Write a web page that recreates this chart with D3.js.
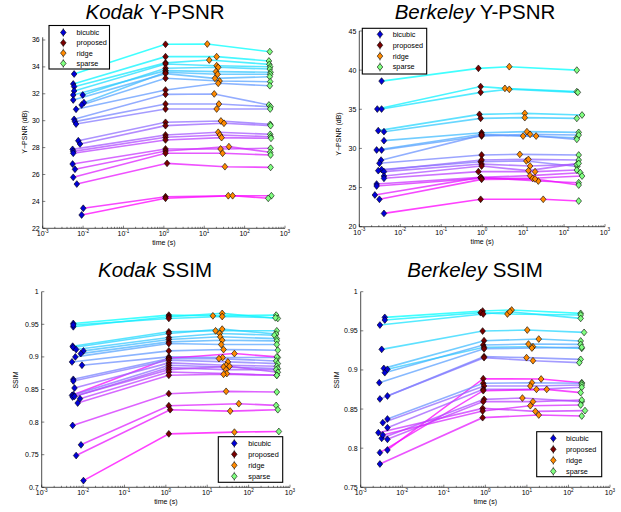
<!DOCTYPE html>
<html>
<head>
<meta charset="utf-8">
<script src="https://cdn.jsdelivr.net/npm/d3@7"></script>
<style>
  body { margin: 0; background: #fff; }
  svg { display: block; font-family: "Liberation Sans", Arial, sans-serif; }
  .tick-label { font-size: 7px; fill: #000; }
  .axis-label { font-size: 7px; fill: #000; }
  .title { font-size: 20.5px; fill: #000; }
  .legend text { font-size: 7.3px; fill: #000; }
</style>
</head>
<body>
<svg width="621" height="512"></svg>
<script>
// ---- data: [time (s), value] per image, one array per method ----
const methods = ['bicubic', 'proposed', 'ridge', 'sparse'];
const methodColors = ['#0000d8', '#780000', '#ff8a00', '#80ff80'];

// Kodak Y-PSNR
const kodakPsnrBicubic = [[0.0060,33.47],[0.0057,32.73],[0.0060,32.53],[0.0060,32.21],[0.0098,31.91],[0.0057,31.91],[0.0105,31.34],[0.0057,31.54],[0.0092,31.17],[0.0067,30.85],[0.0060,30.10],[0.0063,29.93],[0.0067,29.75],[0.0076,28.51],[0.0084,28.27],[0.0055,27.87],[0.0057,27.72],[0.0057,27.58],[0.0055,26.78],[0.0063,26.39],[0.0057,25.79],[0.0070,25.29],[0.0101,23.49],[0.0092,22.99]];
const kodakPsnrProposed = [[1.1,35.68],[1.1,34.76],[1.1,34.30],[1.1,34.22],[1.1,33.90],[1.1,33.72],[1.1,33.60],[1.1,33.50],[1.1,33.15],[1.1,32.28],[1.1,31.96],[1.1,31.24],[1.1,30.87],[1.1,29.88],[1.1,29.63],[1.1,28.94],[1.1,28.77],[1.1,28.57],[1.1,27.90],[1.1,27.75],[1.1,27.58],[1.2,26.83],[1.1,24.35],[1.1,24.23]];
const kodakPsnrRidge = [[11.9,35.70],[20.3,34.76],[13.3,34.51],[20.3,34.09],[22.2,33.97],[19.5,33.65],[21.4,33.45],[18.4,33.15],[24.0,32.95],[22.2,32.78],[17.7,31.99],[23.1,31.24],[20.3,30.87],[25.9,29.98],[30.8,29.81],[22.2,29.14],[24.5,28.94],[26.9,28.74],[25.4,27.90],[40.8,28.07],[28.5,27.58],[32.5,26.58],[39.4,24.42],[50.5,24.42]];
const kodakPsnrSparse = [[420,35.13],[400,34.44],[410,34.19],[430,34.01],[420,33.84],[440,33.60],[430,33.45],[420,33.27],[430,32.90],[420,32.60],[400,31.17],[440,31.04],[430,30.87],[430,29.73],[440,29.63],[430,28.99],[440,28.81],[450,28.69],[440,27.95],[430,27.65],[440,27.45],[440,26.53],[460,24.42],[385,24.23]];

// Berkeley Y-PSNR
const berkPsnrBicubic = [[0.0035,38.60],[0.00275,35.03],[0.0035,35.03],[0.0029,32.27],[0.0040,32.14],[0.0040,30.99],[0.00265,29.80],[0.0035,29.80],[0.0034,28.50],[0.0031,28.10],[0.0035,27.30],[0.0029,27.16],[0.0040,27.03],[0.0040,26.47],[0.0040,26.18],[0.00265,25.45],[0.00265,25.20],[0.0024,24.05],[0.0031,23.50],[0.0040,21.70]];
const berkPsnrProposed = [[0.81,40.23],[0.92,37.90],[0.92,37.16],[0.86,34.35],[0.92,33.84],[0.97,32.00],[0.97,31.80],[0.97,31.58],[0.97,31.70],[0.97,29.16],[0.92,28.30],[0.97,28.52],[0.97,28.00],[0.97,27.75],[0.81,27.03],[0.92,26.30],[0.97,26.18],[0.92,26.30],[0.97,26.05],[0.92,23.50]];
const berkPsnrRidge = [[4.6,40.44],[3.6,37.67],[4.6,37.55],[11,34.48],[11,33.93],[12.4,32.14],[10,31.58],[14.8,31.80],[20.8,31.58],[8.3,29.24],[12,28.40],[13.5,28.60],[14.8,27.75],[13.5,27.16],[19.6,27.03],[14.8,26.52],[17.2,26.18],[23.5,25.83],[19.6,26.10],[31,23.50]];
const berkPsnrSparse = [[205,40.00],[205,37.25],[217,37.16],[275,34.27],[205,33.84],[228,32.05],[205,31.37],[228,31.71],[205,31.16],[228,29.16],[210,27.70],[228,28.52],[205,27.96],[228,28.09],[205,27.24],[250,26.90],[275,26.47],[228,25.62],[228,25.32],[228,23.28]];

// Kodak SSIM
const kodakSsimBicubic = [[0.0058,0.9513],[0.0058,0.9462],[0.0058,0.9490],[0.0056,0.9164],[0.0058,0.9144],[0.0068,0.9113],[0.0102,0.9092],[0.0088,0.9050],[0.0065,0.9000],[0.0054,0.8923],[0.0094,0.8872],[0.0058,0.8420],[0.0058,0.8656],[0.0058,0.8630],[0.0062,0.8523],[0.0054,0.8410],[0.0056,0.8385],[0.0062,0.8395],[0.0084,0.8359],[0.0074,0.8292],[0.0056,0.7949],[0.0089,0.7651],[0.0068,0.7487],[0.0102,0.7103]];
const kodakSsimProposed = [[1.18,0.9641],[1.18,0.9615],[1.18,0.9590],[1.18,0.9385],[1.18,0.9360],[1.18,0.9297],[1.18,0.9267],[1.18,0.9230],[1.18,0.9205],[1.18,0.9092],[1.18,0.9000],[1.18,0.8980],[1.18,0.8974],[1.18,0.8949],[1.18,0.8908],[1.18,0.8872],[1.18,0.8836],[1.18,0.8805],[1.18,0.8769],[1.18,0.8718],[1.18,0.8436],[1.18,0.8251],[1.27,0.8190],[1.18,0.7820]];
const kodakSsimRidge = [[13.7,0.9630],[23,0.9667],[23,0.9620],[15.9,0.9400],[23,0.9426],[19.9,0.9360],[20.6,0.9308],[23,0.9256],[21.8,0.9190],[24.8,0.9113],[23.5,0.8990],[45.4,0.9051],[19.2,0.8974],[31.5,0.8923],[28.6,0.8872],[24.8,0.8846],[28.6,0.8805],[34.6,0.8856],[29.7,0.8744],[24.8,0.8733],[28.6,0.8472],[58,0.8282],[35.9,0.8169],[45.4,0.7846]];
const kodakSsimSparse = [[463,0.9641],[508,0.9590],[445,0.9600],[480,0.9400],[463,0.9350],[420,0.9333],[480,0.9280],[480,0.9246],[480,0.9190],[508,0.9103],[508,0.8990],[480,0.9000],[463,0.8938],[508,0.8897],[480,0.8856],[508,0.8820],[463,0.8805],[508,0.8764],[480,0.8718],[480,0.8718],[480,0.8462],[463,0.8256],[508,0.8190],[538,0.7856]];
const kodakSsimRank = [0,1,2,3,4,5,6,7,8,9,10,22,11,12,14,13,15,16,17,18,19,20,21,23];

// Berkeley SSIM
const berkSsimBicubic = [[0.0038,0.9672],[0.0038,0.9638],[0.0029,0.9574],[0.0032,0.9263],[0.0036,0.9020],[0.0038,0.8965],[0.0044,0.9008],[0.0028,0.8837],[0.0044,0.8667],[0.0029,0.8629],[0.0044,0.7977],[0.0044,0.8373],[0.0034,0.8326],[0.0044,0.8262],[0.0029,0.7943],[0.0032,0.8126],[0.0044,0.8113],[0.00266,0.8198],[0.0034,0.8169],[0.0029,0.7798]];
const berkSsimProposed = [[0.86,0.9753],[0.77,0.9732],[0.89,0.9715],[0.86,0.9497],[0.93,0.9374],[0.89,0.9319],[0.93,0.9289],[0.93,0.9270],[0.93,0.9170],[0.93,0.9157],[0.89,0.8888],[0.89,0.8829],[0.93,0.8795],[0.89,0.8752],[0.89,0.8735],[0.93,0.8624],[0.89,0.8595],[0.86,0.8509],[0.86,0.8475],[0.86,0.8390]];
const berkSsimRidge = [[4.3,0.9766],[3.4,0.9715],[3.9,0.9744],[10.2,0.9510],[19.3,0.9395],[10.9,0.9331],[14,0.9297],[13.2,0.9280],[9.8,0.9157],[14,0.9118],[22,0.8884],[13.2,0.8837],[12.1,0.8795],[17,0.8752],[30,0.8752],[7.8,0.8641],[14,0.8595],[16,0.8471],[12.1,0.8543],[19.3,0.8424]];
const berkSsimSparse = [[197,0.9723],[197,0.9702],[197,0.9659],[238,0.9480],[197,0.9370],[197,0.9327],[209,0.9276],[209,0.9290],[197,0.9135],[183,0.9093],[209,0.8837],[209,0.8829],[209,0.8807],[209,0.8778],[197,0.8710],[209,0.8595],[209,0.8616],[250,0.8480],[197,0.8552],[209,0.8411]];
const berkSsimRank = [0,1,2,3,5,6,4,7,9,10,19,8,11,12,18,13,14,15,16,17];

// tick labels
const xTickExps = [-3, -2, -1, 0, 1, 2, 3];
const kodakPsnrYTicks = [22, 24, 26, 28, 30, 32, 34, 36];
const berkPsnrYTicks = [20, 25, 30, 35, 40, 45];
const kodakSsimYTicks = ['0.7', '0.75', '0.8', '0.85', '0.9', '0.95', '1'];
const berkSsimYTicks = ['0.75', '0.8', '0.85', '0.9', '0.95', '1'];

// ---- layout ----
const panels = [
  { name: 'Kodak', metric: ' Y-PSNR', ylabel: 'Y\u2212PSNR (dB)',
    series: [kodakPsnrBicubic, kodakPsnrProposed, kodakPsnrRidge, kodakPsnrSparse], rank: null,
    yTicks: kodakPsnrYTicks, yDomain: [22, 36.2],
    x: [42.7, 285], y: [228.3, 37.3], titleY: 19, titleX: 155, ylabelX: 27, ylabelY: 132,
    legend: { x: 49, y: 25.5, w: 60.5, h: 43.5, dy: 10.3, mx: 14.3, tx: 27.5, ty0: 7 } },
  { name: 'Berkeley', metric: ' Y-PSNR', ylabel: 'Y\u2212PSNR (dB)',
    series: [berkPsnrBicubic, berkPsnrProposed, berkPsnrRidge, berkPsnrSparse], rank: null,
    yTicks: berkPsnrYTicks, yDomain: [20, 45],
    x: [359.3, 605], y: [226.7, 31], titleY: 19, titleX: 475, ylabelX: 341, ylabelY: 134,
    legend: { x: 362.3, y: 28.3, w: 64.4, h: 45.7, dy: 10.9, mx: 17.7, tx: 30.4, ty0: 6 } },
  { name: 'Kodak', metric: ' SSIM', ylabel: 'SSIM',
    series: [kodakSsimBicubic, kodakSsimProposed, kodakSsimRidge, kodakSsimSparse], rank: kodakSsimRank,
    yTicks: kodakSsimYTicks, yDomain: [0.7, 1],
    x: [41.7, 290], y: [487.3, 291.7], titleY: 277, titleX: 155, ylabelX: 18, ylabelY: 380,
    legend: { x: 218.3, y: 436.7, w: 64.4, h: 45.6, dy: 11, mx: 16, tx: 30, ty0: 6.6 } },
  { name: 'Berkeley', metric: ' SSIM', ylabel: 'SSIM',
    series: [berkSsimBicubic, berkSsimProposed, berkSsimRidge, berkSsimSparse], rank: berkSsimRank,
    yTicks: berkSsimYTicks, yDomain: [0.75, 1],
    x: [360.7, 610], y: [487.3, 291.7], titleY: 277, titleX: 475, ylabelX: 339, ylabelY: 380,
    legend: { x: 536.7, y: 431.7, w: 65, h: 45, dy: 11, mx: 16.6, tx: 29.3, ty0: 6.6 } }
];

const svg = d3.select('svg');
const diamond = (cx, cy) => `M${cx},${cy - 3.4}L${cx + 2.8},${cy}L${cx},${cy + 3.4}L${cx - 2.8},${cy}Z`;
const coolColor = t => d3.rgb(Math.round(255 * t), Math.round(255 * (1 - t)), 255).toString();

panels.forEach(p => {
  const g = svg.append('g');
  const xScale = d3.scaleLog().domain([1e-3, 1e3]).range(p.x);
  const yScale = d3.scaleLinear().domain(p.yDomain).range(p.y);
  const n = p.series[0].length;

  // lines, one per image
  const line = d3.line().x(d => xScale(d[0])).y(d => yScale(d[1]));
  const rows = d3.range(n).map(i => p.series.map(s => s[i]));
  g.append('g').selectAll('path')
    .data(rows)
    .join('path')
      .attr('d', line)
      .attr('fill', 'none')
      .attr('stroke', (d, i) => coolColor((p.rank ? p.rank[i] : i) / (n - 1)))
      .attr('stroke-width', 1.6)
      .attr('stroke-opacity', 0.75);

  // markers
  p.series.forEach((s, m) => {
    g.append('g').selectAll('path')
      .data(s)
      .join('path')
        .attr('d', d => diamond(xScale(d[0]), yScale(d[1])))
        .attr('fill', methodColors[m])
        .attr('stroke', '#000')
        .attr('stroke-width', 0.6);
  });

  // axes (left and bottom only, ticks inward)
  const x0 = p.x[0], x1 = p.x[1], yb = p.y[0], yt = p.y[1];
  g.append('line').attr('x1', x0).attr('x2', x1).attr('y1', yb).attr('y2', yb)
    .attr('stroke', '#000').attr('stroke-width', 0.7);
  g.append('line').attr('x1', x0).attr('x2', x0).attr('y1', yb).attr('y2', yt)
    .attr('stroke', '#000').attr('stroke-width', 0.7);

  const minor = [];
  xTickExps.slice(0, -1).forEach(e => { for (let k = 2; k < 10; k++) minor.push(k * Math.pow(10, e)); });
  g.append('g').selectAll('line').data(minor).join('line')
    .attr('x1', d => xScale(d)).attr('x2', d => xScale(d))
    .attr('y1', yb).attr('y2', yb - 1.5)
    .attr('stroke', '#000').attr('stroke-width', 0.5);
  g.append('g').selectAll('line').data(xTickExps).join('line')
    .attr('x1', d => xScale(Math.pow(10, d))).attr('x2', d => xScale(Math.pow(10, d)))
    .attr('y1', yb).attr('y2', yb - 2.6)
    .attr('stroke', '#000').attr('stroke-width', 0.5);

  const xl = g.append('g').selectAll('text').data(xTickExps).join('text')
    .attr('class', 'tick-label')
    .attr('x', d => xScale(Math.pow(10, d)))
    .attr('y', yb + 8)
    .attr('text-anchor', 'middle');
  xl.append('tspan').text('10');
  xl.append('tspan').attr('dy', -3.6).attr('font-size', '4.6px').text(d => d);

  g.append('g').selectAll('line').data(p.yTicks).join('line')
    .attr('x1', x0).attr('x2', x0 + 2.6)
    .attr('y1', d => yScale(+d)).attr('y2', d => yScale(+d))
    .attr('stroke', '#000').attr('stroke-width', 0.5);
  g.append('g').selectAll('text').data(p.yTicks).join('text')
    .attr('class', 'tick-label')
    .attr('x', x0 - 3)
    .attr('y', d => yScale(+d) + 2.5)
    .attr('text-anchor', 'end')
    .text(d => d);

  // labels and title
  g.append('text').attr('class', 'axis-label')
    .attr('x', (x0 + x1) / 2).attr('y', yb + 17)
    .attr('text-anchor', 'middle').text('time (s)');
  g.append('text').attr('class', 'axis-label')
    .attr('transform', `translate(${p.ylabelX},${p.ylabelY}) rotate(-90)`)
    .attr('text-anchor', 'middle').text(p.ylabel);
  const title = g.append('text').attr('class', 'title')
    .attr('x', p.titleX).attr('y', p.titleY).attr('text-anchor', 'middle');
  title.append('tspan').attr('font-style', 'italic').text(p.name);
  title.append('tspan').text(p.metric);

  // legend
  const L = p.legend;
  const lg = g.append('g').attr('class', 'legend').attr('transform', `translate(${L.x},${L.y})`);
  lg.append('rect').attr('width', L.w).attr('height', L.h)
    .attr('fill', '#fff').attr('stroke', '#000').attr('stroke-width', 1.1);
  methods.forEach((m, i) => {
    const cy = L.ty0 + i * L.dy;
    lg.append('line').attr('x1', L.mx).attr('x2', L.mx).attr('y1', cy - 4.5).attr('y2', cy + 4.5)
      .attr('stroke', '#000').attr('stroke-width', 0.5);
    lg.append('path').attr('d', diamond(L.mx, cy))
      .attr('fill', methodColors[i]).attr('stroke', '#000').attr('stroke-width', 0.6);
    lg.append('text').attr('x', L.tx).attr('y', cy + 2.5).text(m);
  });
});
</script>
</body>
</html>
